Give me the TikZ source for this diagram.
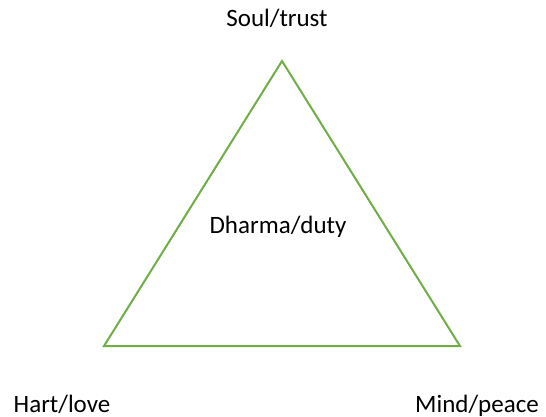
\documentclass[tikz,border=0pt]{standalone}
\usepackage{fontspec}
\setmainfont{Carlito}
\usetikzlibrary{positioning}
\definecolor{Tc}{HTML}{70AD47}
\tikzset{
  side/.style={draw=Tc, line width=2pt, line join=miter},
  lbl/.style={anchor=base, inner sep=0pt, font=\fontsize{25}{30}\selectfont},
}

\begin{document}
\begin{tikzpicture}[x=1pt, y=-1pt]
  \useasboundingbox (0,0) rectangle (546,417);
  \coordinate (soul) at (282,61);
  \coordinate (hart) at (104,346);
  \coordinate (mind) at (460,346);
  \draw[side] (soul) -- (hart) -- (mind) -- cycle;
  \node[lbl] (soulL) at (277,27) {Soul/trust};
  \node[lbl] (dharmaL) at (278,233) {Dharma/duty};
  \node[lbl] (hartL) at (62,412) {Hart/love};
  \node[lbl] (mindL) at (477,412) {Mind/peace};
\end{tikzpicture}
\end{document}
